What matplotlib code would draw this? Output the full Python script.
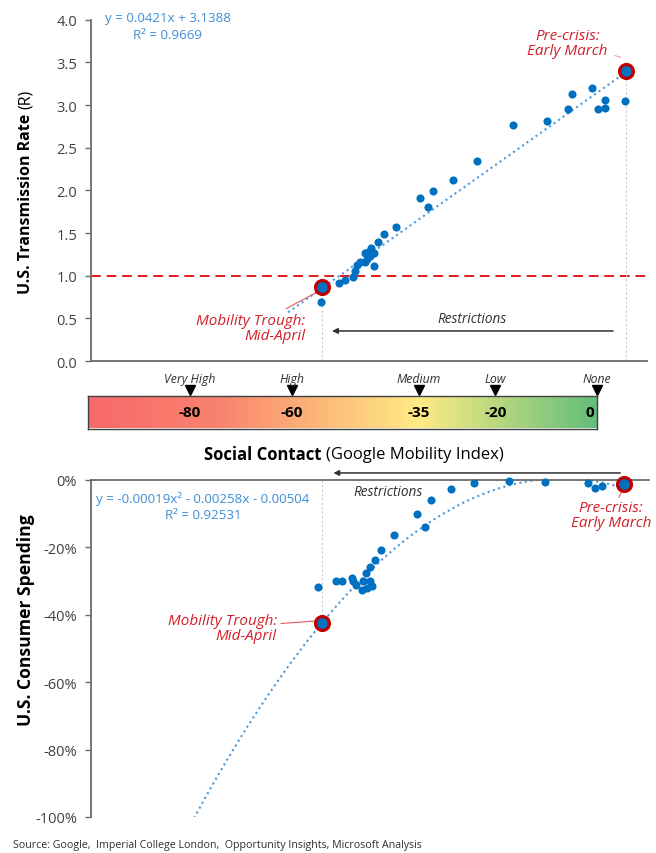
import numpy as np
import matplotlib
matplotlib.use("Agg")
import matplotlib.pyplot as plt
from matplotlib.colors import LinearSegmentedColormap

plt.rcParams['font.family'] = ['Open Sans', 'DejaVu Sans']

# ---- data ----
# mobility index (x) vs transmission rate R (top panel)
top_x = [5.7, 1.6, 1.6, 0.3, -0.9, -4.8, -5.7, -9.7, -16.6, -23.7, -28.4, -32.3,
         -35.0, -33.4, -39.7, -42.0, -43.3, -44.6, -45.1, -45.7, -44.1, -44.8,
         -45.4, -46.7, -47.4, -45.7, -44.1, -47.7, -48.1, -49.7, -51.0, -54.5]
top_r = [3.05, 3.06, 2.97, 2.95, 3.20, 3.13, 2.95, 2.81, 2.77, 2.34, 2.12, 1.99,
         1.91, 1.81, 1.57, 1.49, 1.40, 1.32, 1.28, 1.27, 1.27, 1.23,
         1.20, 1.16, 1.13, 1.16, 1.11, 1.06, 0.98, 0.95, 0.91, 0.69]

# mobility index (x) vs consumer spending change (bottom panel)
bot_x = [1.1, -0.2, -1.5, -10.1, -17.2, -24.2, -28.8, -32.7, -35.4, -33.8, -40.0,
         -42.6, -43.8, -44.8, -45.5, -48.4, -48.1, -47.5, -46.1, -44.8, -44.4,
         -46.4, -45.4, -51.5, -50.2, -55.1]
bot_spend = [-0.018, -0.026, -0.010, -0.008, -0.003, -0.009, -0.028, -0.059, -0.101,
             -0.139, -0.164, -0.208, -0.237, -0.258, -0.277, -0.291, -0.301, -0.311,
             -0.299, -0.299, -0.314, -0.327, -0.322, -0.301, -0.299, -0.317]

# highlighted points
trough_x, trough_r, trough_spend = -54.3, 0.864, -0.4255
pre_x, pre_r, pre_x2, pre_spend = 5.9, 3.396, 5.5, -0.014

# trendlines as printed on the chart
top_coef = [0.0421, 3.1388]
bot_coef = [-0.00019, -0.00258, -0.00504]

# colour scale
scale_ticks = [-80, -60, -35, -20, 0]
scale_names = ['Very High', 'High', 'Medium', 'Low', 'None']

top_yticks = [0.0, 0.5, 1.0, 1.5, 2.0, 2.5, 3.0, 3.5, 4.0]
bot_yticks = [0, -0.2, -0.4, -0.6, -0.8, -1.0]

blue = '#0070C0'
red = '#C00000'
trend = '#4A98E0'
eqcol = '#3F8ED6'
spine = '#6b6b6b'
txt = '#404040'
annot = '#D0202A'

W, H = 656, 854
fig = plt.figure(figsize=(W / 100, H / 100), dpi=100)
renderer = fig.canvas.get_renderer()


def box(l, t, r, b):
    return [l / W, 1 - b / H, (r - l) / W, (b - t) / H]


def style(ax):
    for s in ax.spines.values():
        s.set_color(spine)
        s.set_linewidth(1.3)
    ax.tick_params(axis='y', colors=spine, labelcolor=txt, labelsize=10.5,
                   length=4.5, width=1, pad=5.5)
    ax.set_xticks([])


# bold part followed by regular part, centred on (cx, cy) in pixels
def mixed_label(cx, cy, bold, reg, size, vertical=False):
    rot = 90 if vertical else 0
    t1 = fig.text(0, 0, bold, fontsize=size, fontweight='bold', rotation=rot)
    t2 = fig.text(0, 0, reg, fontsize=size, rotation=rot)
    e1 = t1.get_window_extent(renderer)
    e2 = t2.get_window_extent(renderer)
    gap = size * 0.35
    if vertical:
        total = e1.height + gap + e2.height
        start = (H - cy) - total / 2
        t1.set_position((cx / W, start / H))
        t2.set_position((cx / W, (start + e1.height + gap) / H))
        for t in (t1, t2):
            t.set_ha('center')
            t.set_va('bottom')
    else:
        total = e1.width + gap + e2.width
        start = cx - total / 2
        t1.set_position((start / W, 1 - cy / H))
        t2.set_position(((start + e1.width + gap) / W, 1 - cy / H))
        for t in (t1, t2):
            t.set_ha('left')
            t.set_va('center_baseline')


# ---- top panel ----
ax1 = fig.add_axes(box(91, 20.7, 647, 362))
style(ax1)
ax1.spines['top'].set_visible(False)
ax1.spines['right'].set_visible(False)
ax1.set_xlim(-100, 10)
ax1.set_ylim(0, 4)
ax1.set_yticks(top_yticks)
ax1.set_yticklabels(['%.1f' % v for v in top_yticks])

ax1.axhline(1.0, color='#E01B1B', ls=(0, (5, 3)), lw=1.4, zorder=1)
ax1.plot([trough_x, trough_x], [0, trough_r], color='#C8C8C8', lw=0.8, ls=(0, (2, 2)), zorder=1)
ax1.plot([pre_x, pre_x], [0, pre_r], color='#C8C8C8', lw=0.8, ls=(0, (2, 2)), zorder=1)

xs = np.linspace(-61, pre_x, 200)
ax1.plot(xs, np.polyval(top_coef, xs), color=trend, ls=':', lw=1.5, zorder=2)
ax1.scatter(top_x, top_r, s=34, color=blue, zorder=3, linewidths=0)
ax1.plot([trough_x, pre_x], [trough_r, pre_r], 'o', ms=10, mfc=blue, mec=red,
         mew=2.3, ls='none', zorder=5)

ax1.text(-84.8, 4.03, 'y = 0.0421x + 3.1388', color=eqcol, fontsize=9.6,
         ha='center', va='center')
ax1.text(-84.8, 3.83, 'R² = 0.9669', color=eqcol, fontsize=9.6,
         ha='center', va='center')

ax1.annotate('Mobility Trough:\nMid-April', xy=(-55.2, 0.81), xytext=(-57.6, 0.39),
             ha='right', va='center', color=annot, fontsize=11, style='italic',
             linespacing=1.0,
             arrowprops=dict(arrowstyle='-', color='#E05A5A', lw=0.8, shrinkA=2, shrinkB=0))
ax1.annotate('Pre-crisis:\nEarly March', xy=(4.8, 3.56), xytext=(-5.7, 3.73),
             ha='center', va='center', color=annot, fontsize=11, style='italic',
             linespacing=1.0,
             arrowprops=dict(arrowstyle='-', color='#F0A0A0', lw=0.8, shrinkA=3, shrinkB=0))

ax1.annotate('', xy=(-52.3, 0.352), xytext=(3.3, 0.352),
             arrowprops=dict(arrowstyle='-|>', color='#303030', lw=1.1,
                             mutation_scale=8, shrinkA=0, shrinkB=0))
ax1.text(-24.6, 0.50, 'Restrictions', color='#303030', fontsize=9.8, style='italic',
         ha='center', va='center')

mixed_label(26, 192, 'U.S. Transmission Rate', '(R)', 11.5, vertical=True)

# ---- colour scale bar ----
axc = fig.add_axes(box(88, 396.7, 597, 429.5))
cmap = LinearSegmentedColormap.from_list(
    'mob', [(0.0, '#F8696B'), (0.25, '#F9826E'), (0.65, '#FFEB84'), (1.0, '#63BE7B')])
axc.imshow(np.linspace(0, 1, 300)[None, :], cmap=cmap, aspect='auto',
           extent=[-100, 0, 0, 1])
axc.set_xlim(-100, 0)
axc.set_ylim(0, 1)
axc.set_xticks([])
axc.set_yticks([])
for s in axc.spines.values():
    s.set_color('#404040')
    s.set_linewidth(1.0)
for v, name in zip(scale_ticks, scale_names):
    axc.text(v - 0.5 if v == 0 else v, 0.5, str(v), ha='right' if v == 0 else 'center',
             va='center', fontsize=11, fontweight='bold', color='black')
    axc.plot([v], [1.16], marker='v', ms=7, color='black', clip_on=False)
    axc.text(v, 1.53, name, ha='center', va='center', fontsize=8.8, style='italic',
             color='#303030', clip_on=False)

mixed_label(354, 453, 'Social Contact', '(Google Mobility Index)', 12)

# ---- bottom panel ----
ax2 = fig.add_axes(box(91, 480.7, 649, 818))
style(ax2)
ax2.spines['bottom'].set_visible(False)
ax2.spines['right'].set_visible(False)
ax2.set_xlim(-100, 10.5)
ax2.set_ylim(-1.0, 0.0)
ax2.set_yticks(bot_yticks)
ax2.set_yticklabels(['%d%%' % round(v * 100) for v in bot_yticks])

ax2.plot([trough_x, trough_x], [0, trough_spend], color='#C8C8C8', lw=0.8,
         ls=(0, (2, 2)), zorder=1)
xs2 = np.linspace(-79.6, pre_x2, 300)
ax2.plot(xs2, np.polyval(bot_coef, xs2), color=trend, ls=':', lw=1.5, zorder=2)
ax2.scatter(bot_x, bot_spend, s=34, color=blue, zorder=3, linewidths=0, clip_on=False)
ax2.plot([trough_x, pre_x2], [trough_spend, pre_spend], 'o', ms=10, mfc=blue, mec=red,
         mew=2.3, ls='none', zorder=5, clip_on=False)

ax2.text(-77.8, -0.054, 'y = -0.00019x² - 0.00258x - 0.00504', color=eqcol, fontsize=9.6,
         ha='center', va='center')
ax2.text(-77.8, -0.102, 'R² = 0.92531', color=eqcol, fontsize=9.6,
         ha='center', va='center')

ax2.annotate('Mobility Trough:\nMid-April', xy=(-55.6, -0.419), xytext=(-63.2, -0.439),
             ha='right', va='center', color=annot, fontsize=11, style='italic',
             linespacing=1.0,
             arrowprops=dict(arrowstyle='-', color='#E05A5A', lw=0.8, shrinkA=1, shrinkB=0))
ax2.annotate('Pre-crisis:\nEarly March', xy=(5.1, -0.033), xytext=(3.0, -0.105),
             ha='center', va='center', color=annot, fontsize=11, style='italic',
             linespacing=1.0,
             arrowprops=dict(arrowstyle='-', color='#E05A5A', lw=0.8, shrinkA=10, shrinkB=0))

ax2.annotate('', xy=(-52.0, 0.02), xytext=(4.8, 0.02), annotation_clip=False,
             arrowprops=dict(arrowstyle='-|>', color='#303030', lw=1.1,
                             mutation_scale=8, shrinkA=0, shrinkB=0))
ax2.text(-41.2, -0.036, 'Restrictions', color='#303030', fontsize=9.8, style='italic',
         ha='center', va='center')

fig.text(26 / W, 1 - 620 / H, 'U.S. Consumer Spending', rotation=90, ha='center',
         va='center', fontsize=12.6, fontweight='bold', color='black')

fig.text(13 / W, 1 - 846 / H,
         'Source: Google,  Imperial College London,  Opportunity Insights, Microsoft Analysis',
         ha='left', va='center', fontsize=7.7, color='#303030')

fig.savefig('out.png', dpi=100)
